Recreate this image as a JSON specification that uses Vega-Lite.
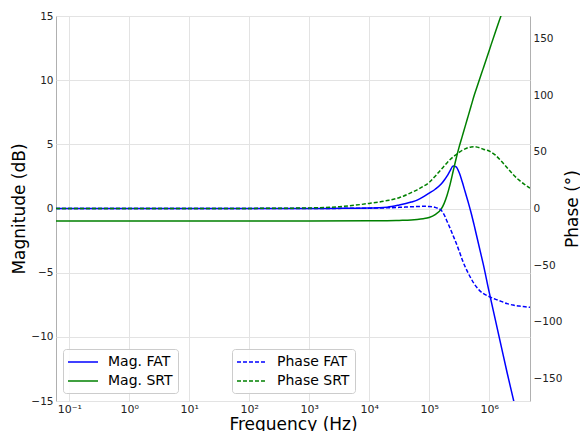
{
  "$schema": "https://vega.github.io/schema/vega-lite/v6.json",
  "width": 474,
  "height": 385,
  "autosize": "none",
  "padding": {"left": 56, "top": 16, "right": 50, "bottom": 30},
  "config": {
    "font": "DejaVu Sans",
    "background": "white",
    "view": {"stroke": "#b0b0b0", "strokeWidth": 1},
    "axis": {
      "labelFont": "DejaVu Sans",
      "titleFont": "DejaVu Sans",
      "labelFontSize": 10.5,
      "labelColor": "#222222",
      "titleColor": "#000000",
      "titleFontWeight": "normal",
      "titleFontSize": 17,
      "ticks": false,
      "domain": false,
      "gridColor": "#e3e3e3",
      "gridWidth": 1
    },
    "legend": {
      "labelFont": "DejaVu Sans",
      "labelFontSize": 14,
      "labelColor": "#000000",
      "symbolType": "M-2.143,0H2.143",
      "symbolSize": 196,
      "symbolStrokeWidth": 1.5,
      "symbolOffset": 7,
      "labelOffset": 17,
      "padding": 5,
      "rowPadding": 4,
      "fillColor": "rgba(255,255,255,0.85)",
      "strokeColor": "#cccccc",
      "cornerRadius": 3
    }
  },
  "datasets": {
    "mag": [
      {"f": 0.06, "series": "Mag. FAT", "db": 0},
      {"f": 1, "series": "Mag. FAT", "db": 0},
      {"f": 100, "series": "Mag. FAT", "db": 0},
      {"f": 1000, "series": "Mag. FAT", "db": 0},
      {"f": 3162, "series": "Mag. FAT", "db": 0.01},
      {"f": 10000, "series": "Mag. FAT", "db": 0.03},
      {"f": 19953, "series": "Mag. FAT", "db": 0.1},
      {"f": 31623, "series": "Mag. FAT", "db": 0.27},
      {"f": 50119, "series": "Mag. FAT", "db": 0.5},
      {"f": 63096, "series": "Mag. FAT", "db": 0.65},
      {"f": 79433, "series": "Mag. FAT", "db": 0.9},
      {"f": 100000, "series": "Mag. FAT", "db": 1.2},
      {"f": 125893, "series": "Mag. FAT", "db": 1.5},
      {"f": 158489, "series": "Mag. FAT", "db": 1.9},
      {"f": 177828, "series": "Mag. FAT", "db": 2.2},
      {"f": 199526, "series": "Mag. FAT", "db": 2.55},
      {"f": 223872, "series": "Mag. FAT", "db": 2.95},
      {"f": 251189, "series": "Mag. FAT", "db": 3.32},
      {"f": 281838, "series": "Mag. FAT", "db": 3.25},
      {"f": 316228, "series": "Mag. FAT", "db": 2.8},
      {"f": 354813, "series": "Mag. FAT", "db": 2.1},
      {"f": 398107, "series": "Mag. FAT", "db": 1.3},
      {"f": 446684, "series": "Mag. FAT", "db": 0.5},
      {"f": 501187, "series": "Mag. FAT", "db": -0.35},
      {"f": 562341, "series": "Mag. FAT", "db": -1.3},
      {"f": 630957, "series": "Mag. FAT", "db": -2.3},
      {"f": 707946, "series": "Mag. FAT", "db": -3.3},
      {"f": 794328, "series": "Mag. FAT", "db": -4.3},
      {"f": 1000000, "series": "Mag. FAT", "db": -6.5},
      {"f": 1258925, "series": "Mag. FAT", "db": -8.6},
      {"f": 1584893, "series": "Mag. FAT", "db": -10.7},
      {"f": 1995262, "series": "Mag. FAT", "db": -12.8},
      {"f": 2511886, "series": "Mag. FAT", "db": -14.8},
      {"f": 3162278, "series": "Mag. FAT", "db": -16.8},
      {"f": 0.06, "series": "Mag. SRT", "db": -0.97},
      {"f": 1, "series": "Mag. SRT", "db": -0.97},
      {"f": 100, "series": "Mag. SRT", "db": -0.97},
      {"f": 1000, "series": "Mag. SRT", "db": -0.97},
      {"f": 10000, "series": "Mag. SRT", "db": -0.96},
      {"f": 19953, "series": "Mag. SRT", "db": -0.95},
      {"f": 31623, "series": "Mag. SRT", "db": -0.93},
      {"f": 50119, "series": "Mag. SRT", "db": -0.9},
      {"f": 63096, "series": "Mag. SRT", "db": -0.86},
      {"f": 79433, "series": "Mag. SRT", "db": -0.8},
      {"f": 100000, "series": "Mag. SRT", "db": -0.7},
      {"f": 125893, "series": "Mag. SRT", "db": -0.48},
      {"f": 158489, "series": "Mag. SRT", "db": -0.05},
      {"f": 177828, "series": "Mag. SRT", "db": 0.4},
      {"f": 199526, "series": "Mag. SRT", "db": 1.05},
      {"f": 223872, "series": "Mag. SRT", "db": 1.9},
      {"f": 251189, "series": "Mag. SRT", "db": 2.9},
      {"f": 281838, "series": "Mag. SRT", "db": 3.9},
      {"f": 316228, "series": "Mag. SRT", "db": 4.8},
      {"f": 354813, "series": "Mag. SRT", "db": 5.6},
      {"f": 398107, "series": "Mag. SRT", "db": 6.4},
      {"f": 446684, "series": "Mag. SRT", "db": 7.2},
      {"f": 501187, "series": "Mag. SRT", "db": 8.0},
      {"f": 562341, "series": "Mag. SRT", "db": 8.8},
      {"f": 630957, "series": "Mag. SRT", "db": 9.5},
      {"f": 707946, "series": "Mag. SRT", "db": 10.2},
      {"f": 794328, "series": "Mag. SRT", "db": 10.9},
      {"f": 1000000, "series": "Mag. SRT", "db": 12.3},
      {"f": 1258925, "series": "Mag. SRT", "db": 13.7},
      {"f": 1584893, "series": "Mag. SRT", "db": 15.05},
      {"f": 1995262, "series": "Mag. SRT", "db": 16.4},
      {"f": 2511886, "series": "Mag. SRT", "db": 17.7}
    ],
    "phase": [
      {"f": 0.06, "series": "Phase FAT", "deg": 0},
      {"f": 1, "series": "Phase FAT", "deg": 0},
      {"f": 100, "series": "Phase FAT", "deg": 0},
      {"f": 1000, "series": "Phase FAT", "deg": 0.02},
      {"f": 3162, "series": "Phase FAT", "deg": 0.1},
      {"f": 10000, "series": "Phase FAT", "deg": 0.3},
      {"f": 19953, "series": "Phase FAT", "deg": 0.6},
      {"f": 31623, "series": "Phase FAT", "deg": 1.0},
      {"f": 50119, "series": "Phase FAT", "deg": 1.5},
      {"f": 63096, "series": "Phase FAT", "deg": 1.7},
      {"f": 79433, "series": "Phase FAT", "deg": 1.9},
      {"f": 100000, "series": "Phase FAT", "deg": 1.8},
      {"f": 125893, "series": "Phase FAT", "deg": 1.0},
      {"f": 141254, "series": "Phase FAT", "deg": 0.0},
      {"f": 158489, "series": "Phase FAT", "deg": -1.5},
      {"f": 177828, "series": "Phase FAT", "deg": -5.5},
      {"f": 199526, "series": "Phase FAT", "deg": -11.5},
      {"f": 223872, "series": "Phase FAT", "deg": -17.5},
      {"f": 251189, "series": "Phase FAT", "deg": -24},
      {"f": 281838, "series": "Phase FAT", "deg": -30.5},
      {"f": 316228, "series": "Phase FAT", "deg": -37.5},
      {"f": 354813, "series": "Phase FAT", "deg": -45},
      {"f": 398107, "series": "Phase FAT", "deg": -51.5},
      {"f": 446684, "series": "Phase FAT", "deg": -57},
      {"f": 501187, "series": "Phase FAT", "deg": -62},
      {"f": 562341, "series": "Phase FAT", "deg": -66.5},
      {"f": 630957, "series": "Phase FAT", "deg": -70},
      {"f": 707946, "series": "Phase FAT", "deg": -73},
      {"f": 794328, "series": "Phase FAT", "deg": -75},
      {"f": 1000000, "series": "Phase FAT", "deg": -77.8},
      {"f": 1258925, "series": "Phase FAT", "deg": -80},
      {"f": 1584893, "series": "Phase FAT", "deg": -82},
      {"f": 1995262, "series": "Phase FAT", "deg": -84},
      {"f": 2511886, "series": "Phase FAT", "deg": -85.3},
      {"f": 3162278, "series": "Phase FAT", "deg": -86.2},
      {"f": 3981072, "series": "Phase FAT", "deg": -86.8},
      {"f": 4800000, "series": "Phase FAT", "deg": -87.3},
      {"f": 0.06, "series": "Phase SRT", "deg": 0},
      {"f": 1, "series": "Phase SRT", "deg": 0.02},
      {"f": 10, "series": "Phase SRT", "deg": 0.05},
      {"f": 100, "series": "Phase SRT", "deg": 0.1},
      {"f": 1000, "series": "Phase SRT", "deg": 0.5},
      {"f": 3162, "series": "Phase SRT", "deg": 1.6},
      {"f": 10000, "series": "Phase SRT", "deg": 4.5},
      {"f": 19953, "series": "Phase SRT", "deg": 7},
      {"f": 31623, "series": "Phase SRT", "deg": 9.5},
      {"f": 50119, "series": "Phase SRT", "deg": 14},
      {"f": 63096, "series": "Phase SRT", "deg": 16.5},
      {"f": 79433, "series": "Phase SRT", "deg": 19.5},
      {"f": 100000, "series": "Phase SRT", "deg": 23},
      {"f": 125893, "series": "Phase SRT", "deg": 28.5},
      {"f": 141254, "series": "Phase SRT", "deg": 31.5},
      {"f": 158489, "series": "Phase SRT", "deg": 34.5},
      {"f": 177828, "series": "Phase SRT", "deg": 37.5},
      {"f": 199526, "series": "Phase SRT", "deg": 40.5},
      {"f": 223872, "series": "Phase SRT", "deg": 43.2},
      {"f": 251189, "series": "Phase SRT", "deg": 45.6},
      {"f": 281838, "series": "Phase SRT", "deg": 47.6},
      {"f": 316228, "series": "Phase SRT", "deg": 49.5},
      {"f": 354813, "series": "Phase SRT", "deg": 51.3},
      {"f": 398107, "series": "Phase SRT", "deg": 52.7},
      {"f": 446684, "series": "Phase SRT", "deg": 53.8},
      {"f": 501187, "series": "Phase SRT", "deg": 54.4},
      {"f": 562341, "series": "Phase SRT", "deg": 54.6},
      {"f": 630957, "series": "Phase SRT", "deg": 54.2},
      {"f": 707946, "series": "Phase SRT", "deg": 53.4},
      {"f": 794328, "series": "Phase SRT", "deg": 52.3},
      {"f": 1000000, "series": "Phase SRT", "deg": 50.8},
      {"f": 1258925, "series": "Phase SRT", "deg": 47.3},
      {"f": 1584893, "series": "Phase SRT", "deg": 42},
      {"f": 1995262, "series": "Phase SRT", "deg": 36},
      {"f": 2511886, "series": "Phase SRT", "deg": 30},
      {"f": 3162278, "series": "Phase SRT", "deg": 25},
      {"f": 3981072, "series": "Phase SRT", "deg": 21},
      {"f": 4800000, "series": "Phase SRT", "deg": 18}
    ]
  },
  "layer": [
    {
      "data": {"name": "mag"},
      "mark": {"type": "line", "clip": true, "strokeWidth": 1.5, "interpolate": "monotone"},
      "encoding": {
        "x": {
          "field": "f",
          "type": "quantitative",
          "scale": {"type": "log", "domain": [0.06, 4800000], "nice": false},
          "axis": {
            "title": "Frequency (Hz)",
            "values": [0.1, 1, 10, 100, 1000, 10000, 100000, 1000000],
            "labelExpr": "'10' + (round(log(datum.value)/LN10) < 0 ? '⁻¹' : ['⁰','¹','²','³','⁴','⁵','⁶'][round(log(datum.value)/LN10)])",
            "labelFontSize": 11,
            "labelPadding": 2,
            "titlePadding": 2,
            "grid": true,
            "labelFlush": false
          }
        },
        "y": {
          "field": "db",
          "type": "quantitative",
          "scale": {"domain": [-15, 15], "nice": false},
          "axis": {
            "title": "Magnitude (dB)",
            "values": [-15, -10, -5, 0, 5, 10, 15],
            "labelPadding": 3,
            "titlePadding": 2,
            "grid": true
          }
        },
        "color": {
          "field": "series",
          "type": "nominal",
          "scale": {"domain": ["Mag. FAT", "Mag. SRT"], "range": ["#0000ff", "#008000"]},
          "legend": {"orient": "none", "legendX": 7, "legendY": 333, "title": null}
        }
      }
    },
    {
      "data": {"name": "phase"},
      "mark": {"type": "line", "clip": true, "strokeWidth": 1.5, "strokeDash": [4, 2], "interpolate": "monotone"},
      "encoding": {
        "x": {
          "field": "f",
          "type": "quantitative",
          "scale": {"type": "log", "domain": [0.06, 4800000], "nice": false}
        },
        "y": {
          "field": "deg",
          "type": "quantitative",
          "scale": {"domain": [-170, 170], "nice": false},
          "axis": {
            "orient": "right",
            "title": "Phase (°)",
            "values": [-150, -100, -50, 0, 50, 100, 150],
            "grid": false,
            "labelPadding": 3,
            "titlePadding": 20,
            "titleAngle": 270
          }
        },
        "color": {
          "field": "series",
          "type": "nominal",
          "scale": {"domain": ["Phase FAT", "Phase SRT"], "range": ["#0000ff", "#008000"]},
          "legend": {"orient": "none", "legendX": 176, "legendY": 333, "title": null, "symbolDash": [4, 2]}
        }
      }
    }
  ],
  "resolve": {"scale": {"y": "independent", "color": "independent"}}
}
